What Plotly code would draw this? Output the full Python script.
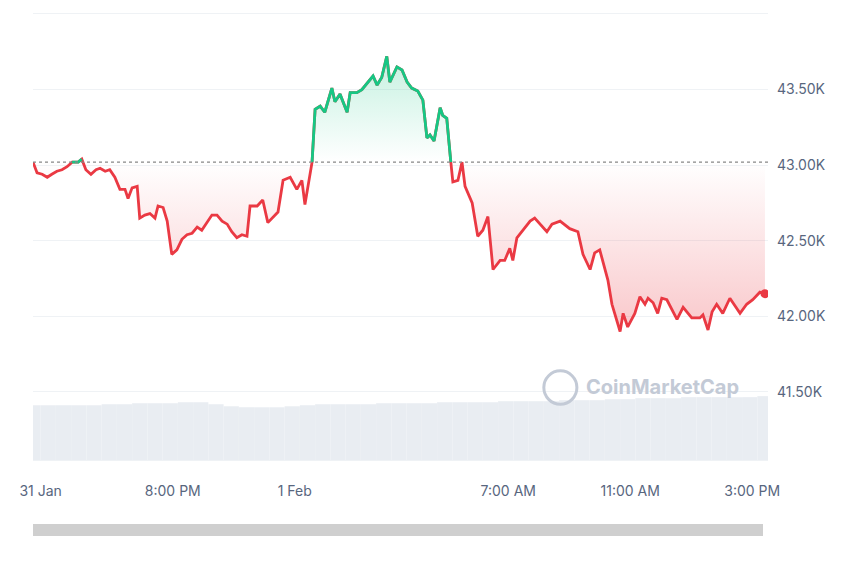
import numpy as np
import pandas as pd
import plotly.graph_objects as go

# minutes after 31 Jan 15:25 and price in thousands of USD
minutes = [0, 8, 18, 28, 37, 47, 57, 67, 77, 89, 96, 104, 114, 124, 132, 142, 151, 161, 171, 181,
           187, 195, 205, 210, 220, 230, 240, 246, 256, 264, 273, 283, 293, 303, 313, 323, 332, 342,
           352, 362, 372, 382, 391, 401, 411, 421, 427, 441, 452, 462, 482, 492, 506, 519, 529, 535,
           549, 555, 565, 574, 588, 594, 604, 618, 624, 637, 647, 659, 669, 677, 686, 696, 702, 716,
           726, 736, 745, 757, 767, 775, 781, 789, 801, 806, 814, 822, 826, 836, 844, 850, 864, 875,
           885, 895, 905, 919, 928, 938, 944, 952, 964, 978, 987, 1011, 1021, 1037, 1056, 1072, 1082,
           1096, 1105, 1115, 1131, 1139, 1155, 1161, 1170, 1184, 1194, 1204, 1210, 1220, 1229, 1237,
           1247, 1267, 1279, 1296, 1312, 1318, 1328, 1336, 1345, 1357, 1371, 1391, 1404, 1416, 1430,
           1440]
price = [43.02, 42.95, 42.94, 42.92, 42.94, 42.96, 42.97, 42.99, 43.02, 43.02, 43.04, 42.97, 42.94,
         42.97, 42.98, 42.96, 42.97, 42.92, 42.84, 42.84, 42.78, 42.85, 42.86, 42.65, 42.67, 42.68,
         42.65, 42.73, 42.72, 42.63, 42.41, 42.44, 42.51, 42.54, 42.55, 42.59, 42.57, 42.62, 42.67,
         42.67, 42.63, 42.61, 42.56, 42.52, 42.54, 42.53, 42.73, 42.73, 42.77, 42.62, 42.69, 42.90,
         42.92, 42.84, 42.90, 42.74, 43.02, 43.37, 43.39, 43.35, 43.51, 43.42, 43.47, 43.35, 43.48,
         43.48, 43.50, 43.55, 43.59, 43.53, 43.58, 43.72, 43.55, 43.65, 43.63, 43.55, 43.51, 43.49,
         43.43, 43.18, 43.20, 43.16, 43.38, 43.33, 43.31, 43.02, 42.89, 42.90, 43.02, 42.86, 42.75,
         42.53, 42.57, 42.66, 42.31, 42.37, 42.37, 42.45, 42.37, 42.52, 42.57, 42.63, 42.65, 42.56,
         42.61, 42.63, 42.58, 42.56, 42.41, 42.31, 42.42, 42.44, 42.24, 42.08, 41.90, 42.02, 41.93,
         42.02, 42.13, 42.08, 42.12, 42.09, 42.02, 42.12, 42.11, 41.98, 42.06, 41.99, 41.99, 42.01,
         41.91, 42.03, 42.08, 42.02, 42.12, 42.02, 42.08, 42.11, 42.16, 42.15]
base_price = 43.02

# volume every 30 minutes (arbitrary units)
volume = [54, 54, 54, 54, 54, 55, 55, 56, 56, 56, 57, 57, 55, 53, 52, 52, 52, 53, 54, 55, 55, 55,
          55, 56, 56, 56, 56, 57, 57, 57, 57, 58, 58, 58, 58, 59, 59, 59, 60, 60, 61, 61, 61, 62,
          62, 62, 62, 62, 63]

start = pd.Timestamp("2024-01-31 15:25")
t = start + pd.to_timedelta(minutes, unit="m")
p = np.array(price)
vol_t = start + pd.to_timedelta(np.arange(len(volume)) * 30, unit="m")

tick_vals = [pd.Timestamp("2024-01-31 15:40"), pd.Timestamp("2024-01-31 20:00"),
             pd.Timestamp("2024-02-01 00:00"), pd.Timestamp("2024-02-01 07:00"),
             pd.Timestamp("2024-02-01 11:00"), pd.Timestamp("2024-02-01 15:00")]
tick_text = ["31 Jan", "8:00 PM", "1 Feb", "7:00 AM", "11:00 AM", "3:00 PM"]

RED = "#ea3943"
GREEN = "#16c784"

fig = go.Figure()

# volume bars on hidden overlay axis
fig.add_trace(go.Bar(x=vol_t, y=volume, yaxis="y2", marker_color="#e9edf2",
                     marker_line_width=0, width=30 * 60 * 1000, showlegend=False,
                     hoverinfo="skip"))

base = np.full(len(p), base_price)
# red area
fig.add_trace(go.Scatter(x=t, y=base, mode="lines", line_width=0, showlegend=False, hoverinfo="skip"))
fig.add_trace(go.Scatter(x=t, y=np.minimum(p, base_price), mode="lines", line_width=0,
                         fill="tonexty", showlegend=False, hoverinfo="skip",
                         fillgradient=dict(type="vertical",
                                           colorscale=[[0, "rgba(234,57,67,0.28)"],
                                                       [1, "rgba(234,57,67,0.0)"]])))
# green area
fig.add_trace(go.Scatter(x=t, y=base, mode="lines", line_width=0, showlegend=False, hoverinfo="skip"))
fig.add_trace(go.Scatter(x=t, y=np.maximum(p, base_price), mode="lines", line_width=0,
                         fill="tonexty", showlegend=False, hoverinfo="skip",
                         fillgradient=dict(type="vertical",
                                           colorscale=[[0, "rgba(22,199,132,0.0)"],
                                                       [1, "rgba(22,199,132,0.25)"]])))

# lines
fig.add_trace(go.Scatter(x=t, y=p, mode="lines", line=dict(color=RED, width=2.8), showlegend=False))
fig.add_trace(go.Scatter(x=t, y=np.where(p >= base_price, p, np.nan), mode="lines",
                         line=dict(color=GREEN, width=2.8), showlegend=False))
fig.add_trace(go.Scatter(x=[t[-1]], y=[p[-1]], mode="markers",
                         marker=dict(color=RED, size=9), showlegend=False))

fig.update_layout(
    width=852, height=565,
    margin=dict(l=25, r=92, t=6, b=113),
    paper_bgcolor="white", plot_bgcolor="white",
    font=dict(family="Inter, Roboto, Arial", color="#58667e", size=14),
    xaxis=dict(range=[start, start + pd.Timedelta(minutes=1446)], tickvals=tick_vals,
               ticktext=tick_text, showgrid=False, zeroline=False, ticks="",
               showline=True, linecolor="#eff2f5", mirror=True, ticklabelstandoff=18),
    yaxis=dict(range=[41.05, 44.0], side="right", tickvals=[41.5, 42.0, 42.5, 43.0, 43.5],
               ticktext=["41.50K", "42.00K", "42.50K", "43.00K", "43.50K"],
               gridcolor="#eff2f5", zeroline=False, ticks="", ticklabelstandoff=8),
    yaxis2=dict(overlaying="y", range=[0, 440], visible=False),
    bargap=0.05,
    annotations=[dict(text="<b>CoinMarketCap</b>", xref="paper", yref="paper", x=0.75, y=0.163,
                      xanchor="left", yanchor="middle", showarrow=False,
                      font=dict(size=20, color="#c3cad6")),
                 dict(text="", xref="paper", yref="paper", x=0.0, y=-0.157, xanchor="left",
                      yanchor="middle", showarrow=False, width=730, height=12,
                      bgcolor="#cfcfcf", borderpad=0, borderwidth=0)],
)

# dotted reference line and watermark logo ring
fig.add_hline(y=base_price, line=dict(color="#888", width=1.2, dash="dot"))
fig.add_shape(type="circle", xref="paper", yref="paper", x0=0.695, x1=0.74, y0=0.125, y1=0.2,
              line=dict(color="#c3cad6", width=3))

fig.write_html("out.html")
